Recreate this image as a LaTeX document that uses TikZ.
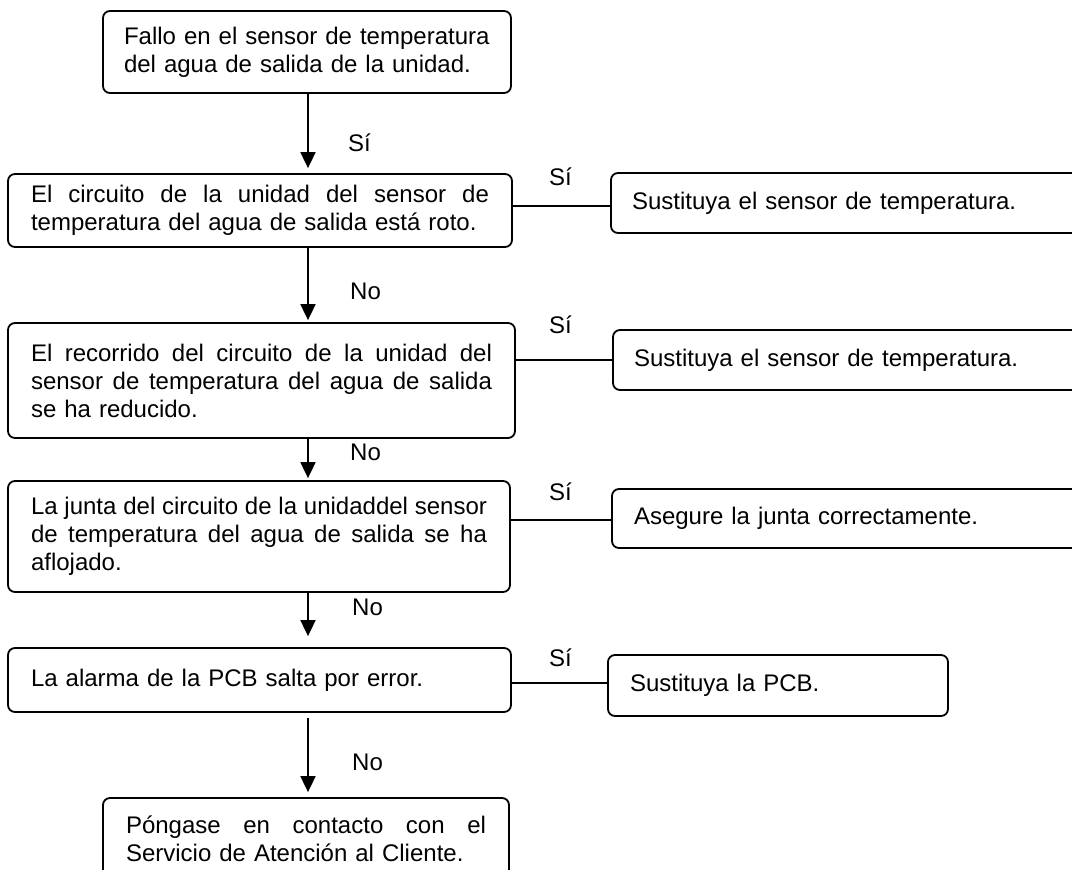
\documentclass[tikz,border=0pt]{standalone}
\usepackage{fontspec}
\setmainfont{Liberation Sans}
\usetikzlibrary{arrows.meta}
\newcommand\jline[2]{\leavevmode\hbox to #1{\spaceskip=.278em plus 1fil\relax #2}}
\begin{document}
\begin{tikzpicture}[x=1pt,y=-1pt,
  txt/.style={font=\fontsize{24pt}{28pt}\selectfont},
  box/.style={txt, draw, line width=1.8pt, rounded corners=7pt, inner sep=0pt, align=left},
  lbl/.style={txt, inner sep=0pt, anchor=west},
  arr/.style={line width=1.8pt, -{Triangle[width=15pt,length=16pt]}},
  con/.style={line width=1.8pt}]
\clip (0,0) rectangle (1072,870);
\coordinate (ax) at (308,0);
% main column
\node[box, minimum width=408pt, minimum height=82pt, text width=366pt] (b1) at (307,52)
  {Fallo en el sensor de temperatura\\del agua de salida de la unidad.};
\node[box, minimum width=504pt, minimum height=73pt, text width=458pt] (b2) at (260,210.5)
  {\jline{458pt}{El circuito de la unidad del sensor de}\\temperatura del agua de salida está roto.};
\node[box, minimum width=507pt, minimum height=115pt, text width=461pt] (b3) at (261.5,380.5)
  {\jline{461pt}{El recorrido del circuito de la unidad del}\\\jline{461pt}{sensor de temperatura del agua de salida}\\se ha reducido.};
\node[box, minimum width=502pt, minimum height=111pt, text width=456pt] (b4) at (259,536.5)
  {\jline{456pt}{La junta del circuito de la unidaddel sensor}\\\jline{456pt}{de temperatura del agua de salida se ha}\\aflojado.};
\node[box, minimum width=503pt, minimum height=64pt, text width=457pt] (b5) at (259.5,680)
  {La alarma de la PCB salta por error.};
\node[box, minimum width=406pt, minimum height=82pt, text width=360pt] (b6) at (306,839)
  {\jline{360pt}{Póngase en contacto con el}\\Servicio de Atención al Cliente.};
% right column
\node[box, minimum width=479pt, minimum height=60pt, text width=437pt] (r1) at (850.5,203)
  {Sustituya el sensor de temperatura.};
\node[box, minimum width=477pt, minimum height=60pt, text width=435pt] (r2) at (851.5,360)
  {Sustituya el sensor de temperatura.};
\node[box, minimum width=478pt, minimum height=59pt, text width=434pt] (r3) at (851,518.5)
  {Asegure la junta correctamente.};
\node[box, minimum width=340pt, minimum height=61pt, text width=296pt] (r4) at (778,685.5)
  {Sustituya la PCB.};
% labels
\node[lbl] (s0) at (348,143) {Sí};
\node[lbl] (n1) at (350,291) {No};
\node[lbl] (n2) at (350,452) {No};
\node[lbl] (n3) at (352,607) {No};
\node[lbl] (n4) at (352,762) {No};
\node[lbl] (s1) at (549,177) {Sí};
\node[lbl] (s2) at (549,325) {Sí};
\node[lbl] (s3) at (549,492) {Sí};
\node[lbl] (s4) at (549,658) {Sí};
% arrows
\draw[arr] (b1.south -| ax) -- ([yshift=5pt]b2.north -| ax);
\draw[arr] (b2.south -| ax) -- ([yshift=2pt]b3.north -| ax);
\draw[arr] (b3.south -| ax) -- ([yshift=2pt]b4.north -| ax);
\draw[arr] (b4.south -| ax) -- ([yshift=11pt]b5.north -| ax);
\draw[arr] ([yshift=-5pt]b5.south -| ax) -- ([yshift=5pt]b6.north -| ax);
% side connectors
\draw[con] ([yshift=-3pt]r1.west -| b2.east) -- ([yshift=-3pt]r1.west);
\draw[con] (r2.west -| b3.east) -- (r2.west);
\draw[con] ([yshift=-1.5pt]r3.west -| b4.east) -- ([yshift=-1.5pt]r3.west);
\draw[con] ([yshift=2.5pt]r4.west -| b5.east) -- ([yshift=2.5pt]r4.west);
\end{tikzpicture}
\end{document}
